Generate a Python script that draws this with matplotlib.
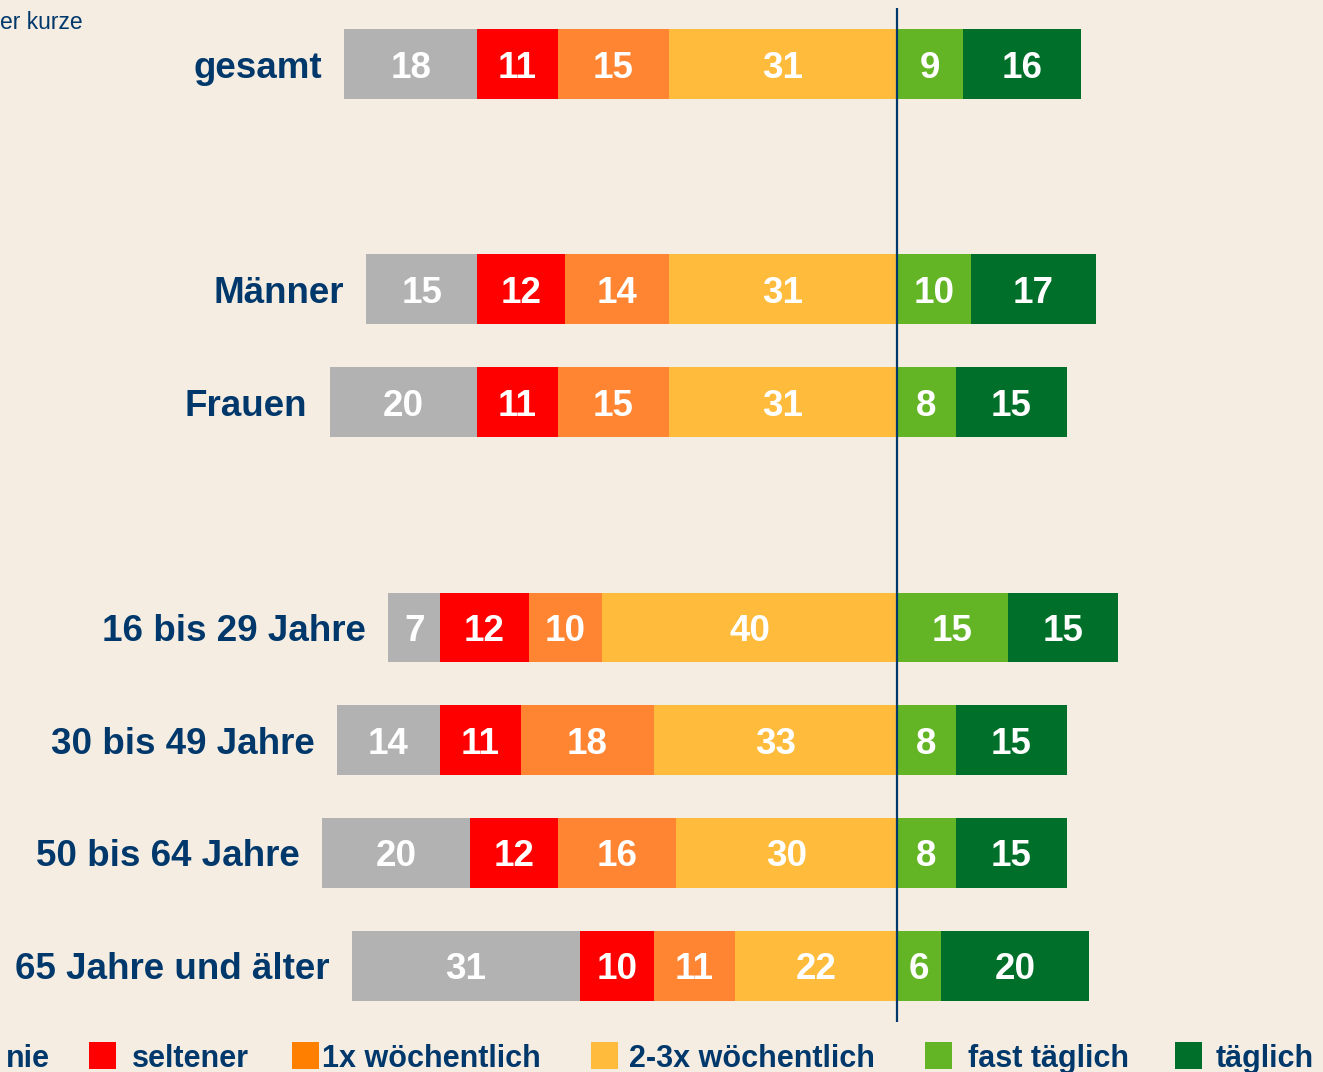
import matplotlib
matplotlib.use("Agg")
import matplotlib.pyplot as plt
from matplotlib.patches import Rectangle

# Nutzungshäufigkeit in Prozent
groups = ["gesamt", "Männer", "Frauen", "16 bis 29 Jahre", "30 bis 49 Jahre",
          "50 bis 64 Jahre", "65 Jahre und älter"]
nie = [18, 15, 20, 7, 14, 20, 31]
seltener = [11, 12, 11, 12, 11, 12, 10]
einmal_woche = [15, 14, 15, 10, 18, 16, 11]
zwei_drei_woche = [31, 31, 31, 40, 33, 30, 22]
fast_taeglich = [9, 10, 8, 15, 8, 8, 6]
taeglich = [16, 17, 15, 15, 15, 15, 20]

legend_labels = ["nie", "seltener", "1x wöchentlich", "2-3x wöchentlich",
                 "fast täglich", "täglich"]

# row slots, with gaps between the blocks
row_pos = [0, 2, 3, 5, 6, 7, 8]

bg = "#F5EDE2"
navy = "#00386B"
bar_colors = ["#B2B2B2", "#FF0000", "#FF8533", "#FFBB3B", "#63B526", "#006F2A"]
legend_colors = ["#B2B2B2", "#FF0000", "#FF8000", "#FFBB3B", "#63B526", "#006F2A"]

W, H = 1323, 1072
fig = plt.figure(figsize=(W / 100, H / 100), dpi=100, facecolor=bg)
ax = fig.add_axes([0, 0, 1, 1])
ax.set_facecolor(bg)

plt.rcParams["font.family"] = ["Liberation Sans", "DejaVu Sans"]

px_per_unit = 7.37
center_px = 897
ax.set_xlim(-center_px / px_per_unit, (W - center_px) / px_per_unit)
row_px = 112.7
top_px = 64
ax.set_ylim((H - top_px) / row_px, -top_px / row_px)
ax.axis("off")

bar_h = 0.62
neg_series = [zwei_drei_woche, einmal_woche, seltener, nie]
neg_colors = [bar_colors[3], bar_colors[2], bar_colors[1], bar_colors[0]]
pos_series = [fast_taeglich, taeglich]
pos_colors = [bar_colors[4], bar_colors[5]]

for i, y in enumerate(row_pos):
    left = 0
    for vals, col in zip(neg_series, neg_colors):
        v = vals[i]
        left -= v
        ax.barh(y, v, left=left, height=bar_h, color=col, linewidth=0)
        ax.text(left + v / 2, y, str(v), ha="center", va="center_baseline",
                color="white", fontsize=26.5, fontweight="bold")
    start = left
    left = 0
    for vals, col in zip(pos_series, pos_colors):
        v = vals[i]
        ax.barh(y, v, left=left, height=bar_h, color=col, linewidth=0)
        ax.text(left + v / 2, y, str(v), ha="center", va="center_baseline",
                color="white", fontsize=26.5, fontweight="bold")
        left += v
    ax.text(start - 3, y, groups[i], ha="right", va="center_baseline",
            color=navy, fontsize=26.5, fontweight="bold")

ax.vlines(0, -0.5, 8.5, color=navy, linewidth=1.6, zorder=5)

# top-left fragment of the note
fig.text(0, 1 - 29 / H, "er kurze", ha="left", va="baseline",
         color=navy, fontsize=16.5)

# legend, placed by hand along the bottom edge
sq_left = [-35, 89, 292, 591, 925, 1175]
txt_left = [6, 132, 322, 629, 968, 1216]
sq = 27
for lab, col, sx, tx in zip(legend_labels, legend_colors, sq_left, txt_left):
    fig.patches.append(Rectangle((sx / W, 1 - 1069 / H), sq / W, sq / H,
                                 transform=fig.transFigure, color=col,
                                 linewidth=0))
    fig.text(tx / W, 1 - 1067 / H, lab, ha="left", va="baseline",
             color=navy, fontsize=22, fontweight="bold")

fig.savefig("out.png", dpi=100, facecolor=bg)
